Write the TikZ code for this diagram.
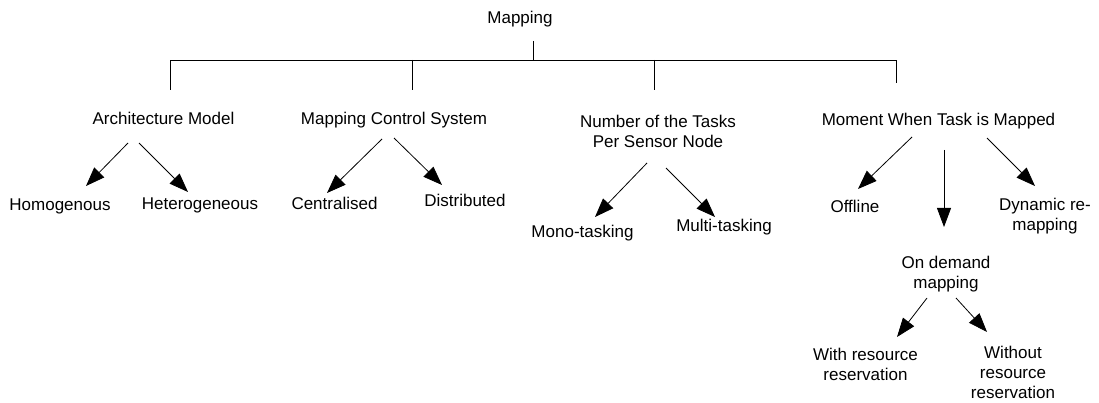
\documentclass[tikz,border=0pt]{standalone}
\usepackage{fontspec}
\setmainfont{Liberation Sans}
\usepackage{tikz}
\usetikzlibrary{arrows.meta,calc}
\tikzset{
	lbl/.style={anchor=base, inner sep=0pt, align=center,
			font=\fontsize{17}{20}\selectfont},
	branch/.style={line width=0.8pt},
	arr/.style={line width=0.8pt, -{Triangle[length=19pt,width=14pt]}}
}

\begin{document}
\begin{tikzpicture}[x=1pt,y=-1pt]
	\useasboundingbox (0,0) rectangle (1099,403);
	% labels (base = last line)
	\node[lbl] (map) at (520,24) {Mapping};
	\node[lbl] (arch) at (163.5,125) {Architecture Model};
	\node[lbl] (mcs) at (394,125) {Mapping Control System};
	\node[lbl] (numb) at (658,148) {Number of the Tasks\\Per Sensor Node};
	\node[lbl] (mom) at (938.5,126) {Moment When Task is Mapped};

	\node[lbl] (homog) at (60,211) {Homogenous};
	\node[lbl] (hetero) at (200,210) {Heterogeneous};
	\node[lbl] (central) at (334.5,210) {Centralised};
	\node[lbl] (distrib) at (465,207) {Distributed};
	\node[lbl] (mono) at (582.5,237) {Mono-tasking};
	\node[lbl] (multi) at (724,232) {Multi-tasking};
	\node[lbl] (offline) at (855,213) {Offline};
	\node[lbl] (dyn) at (1045,230) {Dynamic re-\\mapping};
	\node[lbl] (ondem) at (946,288) {On demand\\mapping};
	\node[lbl] (withres) at (865.5,380) {With resource\\reservation};
	\node[lbl] (without) at (1013,398) {Without\\resource\\reservation};

	% tree from the root
	\coordinate (stem) at (533,41);
	\coordinate (hub) at (533,60);
	\coordinate (b1) at (170,60);
	\coordinate (b2) at (412,60);
	\coordinate (b3) at (654,60);
	\coordinate (b4) at (896,60);
	\coordinate (e1) at (170,90);
	\coordinate (e2) at (412,90);
	\coordinate (e3) at (654,90);
	\coordinate (e4) at (896,83);
	\draw[branch] (stem) -- (hub);
	\draw[branch] (e1) -- (b1) -- (b4) -- (e4);
	\draw[branch] (b2) -- (e2);
	\draw[branch] (b3) -- (e3);

	% arrows
	\draw[arr] ([shift={(-35.5,18)}]arch.base) -- ([shift={(26,-25)}]homog.base);
	\draw[arr] ([shift={(-24.5,18)}]arch.base) -- ([shift={(-12,-18)}]hetero.base);
	\draw[arr] ([shift={(-12,14)}]mcs.base) -- ([shift={(-7.5,-17)}]central.base);
	\draw[arr] ([shift={(0,13)}]mcs.base) -- ([shift={(-23,-22)}]distrib.base);
	\draw[arr] ([shift={(-11,15)}]numb.base) -- ([shift={(12.5,-20)}]mono.base);
	\draw[arr] ([shift={(8,20)}]numb.base) -- ([shift={(-9,-15)}]multi.base);
	\draw[arr] ([shift={(-26.5,11)}]mom.base) -- ([shift={(3,-24)}]offline.base);
	\draw[arr] ([shift={(5.5,24)}]mom.base) -- ([shift={(-2,-61)}]ondem.base);
	\draw[arr] ([shift={(48.5,12)}]mom.base) -- ([shift={(-10,-44)}]dyn.base);
	\draw[arr] ([shift={(-19,10)}]ondem.base) -- ([shift={(31.5,-43)}]withres.base);
	\draw[arr] ([shift={(10,10)}]ondem.base) -- ([shift={(-26,-66)}]without.base);
\end{tikzpicture}
\end{document}
